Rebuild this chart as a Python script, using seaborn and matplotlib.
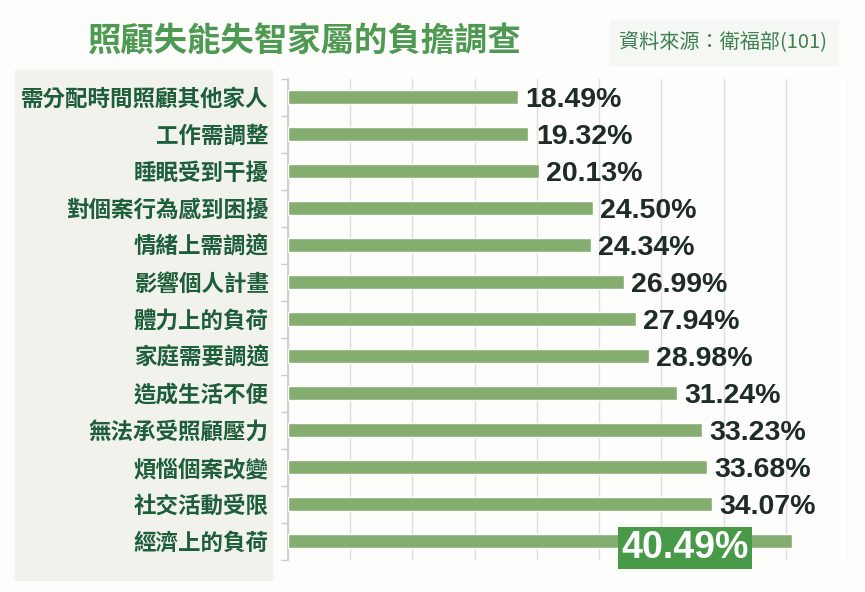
import pandas as pd
import matplotlib.pyplot as plt
import seaborn as sns
from matplotlib.patches import Rectangle

items = ["需分配時間照顧其他家人", "工作需調整", "睡眠受到干擾", "對個案行為感到困擾",
         "情緒上需調適", "影響個人計畫", "體力上的負荷", "家庭需要調適",
         "造成生活不便", "無法承受照顧壓力", "煩惱個案改變", "社交活動受限", "經濟上的負荷"]
pcts = [18.49, 19.32, 20.13, 24.50, 24.34, 26.99, 27.94, 28.98, 31.24, 33.23, 33.68, 34.07, 40.49]

title = "照顧失能失智家屬的負擔調查"
source = "資料來源：衛福部(101)"

sns.set_theme(style="white")
plt.rcParams['font.family'] = ['Noto Sans CJK TC', 'DejaVu Sans']

df = pd.DataFrame({"item": items, "pct": pcts})

W, H = 865, 592
fig = plt.figure(figsize=(8.65, 5.92), dpi=100)
fig.patch.set_facecolor("#fdfdfb")

# label panel and source box (behind the axes)
fig.patches.append(Rectangle((15 / W, 1 - 580 / H), 257 / W, 510 / H,
                             transform=fig.transFigure, color="#f1f2ec", zorder=-5))
fig.patches.append(Rectangle((610 / W, 1 - 65 / H), 228 / W, 45 / H,
                             transform=fig.transFigure, color="#f5f7f2", zorder=-5))

ax = fig.add_axes([288 / W, 1 - 559.5 / H, 560 / W, 481 / H])
ax.set_facecolor("none")
sns.barplot(data=df, x="pct", y="item", color="#86ad70", width=0.40,
            saturation=1, ax=ax, zorder=3)

ax.set_xlim(0, 45)
ax.set_xticks(range(0, 46, 5))
ax.set_xticklabels([])
ax.xaxis.grid(True, color="#dedede", lw=1)
ax.tick_params(axis="x", length=0)
ax.set_xlabel("")
ax.set_ylabel("")
for s in ["top", "right", "bottom"]:
    ax.spines[s].set_visible(False)
ax.spines["left"].set_color("#cccccc")

ax.set_yticks([i + 0.5 for i in range(-1, len(items))], minor=True)
ax.tick_params(axis="y", which="major", length=0, pad=14, labelsize=16.2,
               labelcolor="#1e5e3a")
ax.tick_params(axis="y", which="minor", length=5, color="#cccccc", left=True)
for lab in ax.get_yticklabels():
    lab.set_fontweight("bold")

for i, v in enumerate(pcts):
    if i < len(pcts) - 1:
        ax.text(v + 0.6, i + 0.08, f"{v:.2f}%", family="Liberation Sans",
                fontweight="bold", fontsize=20.5, color="#1f2b26", va="center", zorder=4)
    else:
        ax.text(31.9, i + 0.19, f"{v:.2f}%", family="Liberation Sans",
                fontweight="bold", fontsize=27, color="white", va="center", ha="center",
                zorder=5, bbox=dict(boxstyle="square,pad=0.08", fc="#489a48", ec="none"))

fig.text(305 / W, 1 - 42 / H, title, ha="center", va="center", fontsize=24,
         fontweight="bold", color="#4f9a52")
fig.text(723 / W, 1 - 43 / H, source, ha="center", va="center", fontsize=14.5,
         color="#3d8050")

fig.savefig("out.png", dpi=100)
